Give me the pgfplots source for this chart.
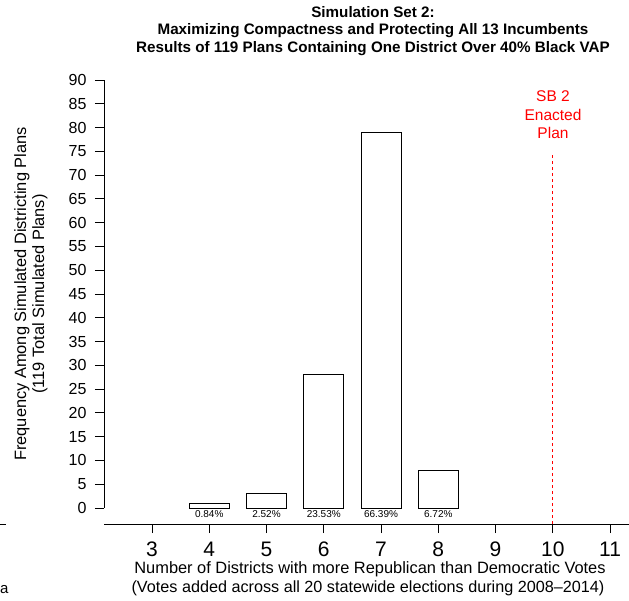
\documentclass[border=0pt]{standalone}
\usepackage{fontspec}
\setmainfont{Liberation Sans}
\usepackage{pgfplots}
\pgfplotsset{compat=1.18}
\tikzset{pct/.style={anchor=north, font=\fontsize{10}{11}\selectfont, inner sep=1pt}}
\begin{document}
\begin{tikzpicture}[x=1pt,y=1pt]
\useasboundingbox (0,0) rectangle (629,600);
% y axis with bars
\begin{axis}[
  at={(104pt,92pt)}, anchor=south west,
  scale only axis, width=525pt, height=428pt,
  xmin=2.162, xmax=11.33, ymin=0, ymax=90,
  axis x line=none, axis y line*=left,
  ytick={0,5,...,90}, tick align=outside, major tick length=9pt,
  y axis line style={-, line width=0.8pt}, every tick/.style={black, line width=0.8pt},
  yticklabel style={font=\fontsize{16}{18}\selectfont, xshift=-5pt},
  /pgf/number format/assume math mode=true,
  clip=false,
]
\addplot[ybar, bar width=40pt, fill=white, draw=black, line width=0.8pt] coordinates {(4,1) (5,3) (6,28) (7,79) (8,8)};
\addplot[red, dashed, line width=0.8pt] coordinates {(10,-3.4) (10,74.2)};
\node[pct] at (axis cs:4,-0.3) {0.84\%};
\node[pct] at (axis cs:5,-0.3) {2.52\%};
\node[pct] at (axis cs:6,-0.3) {23.53\%};
\node[pct] at (axis cs:7,-0.3) {66.39\%};
\node[pct] at (axis cs:8,-0.3) {6.72\%};
\end{axis}
% x axis
\begin{axis}[
  at={(104pt,76pt)}, anchor=south west,
  scale only axis, width=525pt, height=10pt,
  xmin=2.162, xmax=11.33, ymin=0, ymax=1,
  axis x line*=bottom, axis y line=none,
  xtick={3,...,11}, ytick=\empty, tick align=outside, major tick length=9pt,
  x axis line style={-, line width=0.8pt}, every tick/.style={black, line width=0.8pt},
  xticklabel style={font=\fontsize{21}{23}\selectfont, inner sep=0pt, yshift=-9pt},
  /pgf/number format/assume math mode=true,
]
\addplot[draw=none] coordinates {(3,0) (11,0)};
\end{axis}
% title
\node[font=\bfseries\fontsize{15.2}{17}\selectfont] at (373,588) {Simulation Set 2:};
\node[font=\bfseries\fontsize{15.2}{17}\selectfont] at (373,569) {Maximizing Compactness and Protecting All 13 Incumbents};
\node[font=\bfseries\fontsize{15.2}{17}\selectfont] at (373,551) {Results of 119 Plans Containing One District Over 40\% Black VAP};
% x label
\node[font=\fontsize{16.4}{18}\selectfont, inner sep=0pt] at (370,31) {Number of Districts with more Republican than Democratic Votes};
\node[font=\fontsize{16.2}{18}\selectfont, inner sep=0pt] at (368,12) {(Votes added across all 20 statewide elections during 2008--2014)};
% y label
\node[font=\fontsize{16.4}{18}\selectfont, rotate=90, inner sep=0pt] at (22,306) {Frequency Among Simulated Districting Plans};
\node[font=\fontsize{16.4}{18}\selectfont, rotate=90, inner sep=0pt] at (40,306) {(119 Total Simulated Plans)};
% SB 2 label
\node[font=\fontsize{15.5}{17}\selectfont, text=red] at (553,504) {SB 2};
\node[font=\fontsize{15.5}{17}\selectfont, text=red] at (553,485) {Enacted};
\node[font=\fontsize{15.5}{17}\selectfont, text=red] at (553,467) {Plan};
% fragments of neighbouring panel
\draw[line width=0.8pt] (0,76) -- (6,76);
\node[font=\fontsize{15}{17}\selectfont, anchor=west, inner sep=0pt] at (0,10) {a};
\end{tikzpicture}
\end{document}
